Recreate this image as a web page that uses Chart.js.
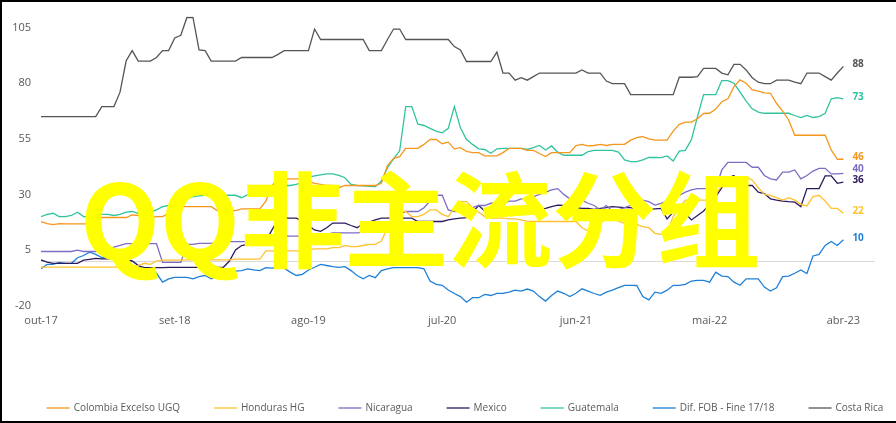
<!DOCTYPE html>
<html>
<head>
<meta charset="utf-8">
<script src="https://cdn.jsdelivr.net/npm/chart.js@4.4.1/dist/chart.umd.min.js"></script>
<style>
  html, body { margin: 0; padding: 0; background: #fff; }
  #wrap { position: relative; width: 896px; height: 423px; overflow: hidden; }
  #frame { position: absolute; left: 0; top: 0; width: 896px; height: 423px; box-sizing: border-box;
           border-top: 2px solid #000; border-left: 2px solid #000; border-bottom: 2px solid #000; pointer-events: none; }
  #mark { position: absolute; left: 80px; top: 163px; font-family: "Noto Sans CJK SC", sans-serif; font-size: 104px;
          font-weight: bold; line-height: 1; color: #ffff00; white-space: nowrap; }
</style>
</head>
<body>
<div id="wrap">
  <canvas id="chart" width="896" height="423"></canvas>
  <div id="mark">QQ非主流分组</div>
  <div id="frame"></div>
</div>
<script>
// semi-monthly points, out-17 .. abr-23 (133 points)
const tickIdx = [0, 22, 44, 66, 88, 110, 132];
const tickLabels = ["out-17", "set-18", "ago-19", "jul-20", "jun-21", "mai-22", "abr-23"];
const yTicks = [-20, 0, 5, 30, 55, 80, 105];

const colombia = [
  17.8,16.8,16.4,16.8,16.7,16.7,16.7,16.7,16.7,17.5,
  19.6,19.6,19.6,19.6,19.6,20.8,20.5,20,19.6,20,
  20,21.5,24,24.5,24.5,24.5,24.5,24.5,24.5,22.7,
  22.7,22.7,22.7,23.5,23.5,23.5,23.5,27,34,37,
  37,37,37,37,36,35,34.5,34,34,33,
  34,34,34,34,34,34,35,43,46.2,47,
  50.7,50.7,50.7,52.5,54.7,54.7,52.8,53.5,50.5,51,
  49.3,48.8,48.8,47.3,47.3,47.3,48.8,50.7,50.7,50.7,
  49.8,49.8,48.4,47,48.8,48.8,48.8,48.8,52,52.5,
  51.8,52,52.5,52,52.5,52.5,52.5,54.4,55.5,56,
  55,54.4,54.4,54.4,58.5,61.5,62.5,62.5,64,66.4,
  66.5,68.4,71.7,73,78.5,81.5,80,77,76.5,75.7,
  75.5,71,67.5,63.5,56.6,56.6,56.6,56.6,56.6,56.6,
  50,45.8,45.8
];
const honduras = [
  -2.7,-2.7,-2.7,-2.7,-2.7,-2.7,-2.7,-2.7,-2.7,-2.7,
  -2.7,-2.7,-2.7,-2.7,-2.7,-2.7,-2,-1,-1.5,0,
  0.4,0.4,0.4,0.4,0.5,0.5,0.5,0.5,0.5,0.5,
  0.5,0.5,0.9,0.9,0.9,0.9,0.9,4.6,4.6,4.6,
  4.6,4.6,4.6,4.6,5,5.5,5.5,5.5,6,6,
  7,6.5,6.5,7,7.5,7.5,9,15,20,22.3,
  22.3,20,20,21,23,23,21,20,24,26.7,
  26.7,24,22,20,19.3,19.3,19.3,19,19,18.5,
  18,17.8,17.8,17.8,17.8,17.8,17.8,17.8,17.8,15,
  13.5,14.2,17,19.3,19.3,18,17,16,16.5,15.5,
  15,12.5,12,12.7,20,24,27.4,27.4,27.4,27.4,
  27.4,30,34,36,37.7,37.7,37.7,36.5,33,30,
  29.6,28.5,27.4,28.5,27.4,25.5,24.8,29,29.6,27,
  23.7,23.7,21.5
];
const nicaragua = [
  4.3,4.3,4.3,4.3,4.3,4.3,4.9,4.3,4.3,4.3,
  4.3,4.3,6.3,7,7.8,7.8,7.8,7.8,7.8,7.8,
  -0.6,-0.6,-0.6,-0.6,7.5,7.5,8,8,8,8.5,
  8.7,8.7,8.7,8.7,8.7,8.7,7.8,9.5,11.2,11.2,
  11.2,11.2,11.2,11.2,11.5,12,12,12,12.7,12.7,
  12.7,12.7,12.7,13,13,13,14,16,19,21,
  22.3,22.3,22.3,24,27,29.6,29.6,23,22.3,22.3,
  23,24,25,25,26,26,26,27,27,28,
  28,29,30,31,32,32.6,30,28,27.5,27.4,
  26,25,23,25,22.5,23,24,25,26.5,27.4,
  26.7,25.2,26,27,28,29.5,31,32,32.6,32.6,
  32.6,32.6,41,44.4,44.4,44.4,44.4,42.2,42.2,38.5,
  37,36.5,40,40,41,37,38.5,40.5,41.7,41.7,
  39.2,39.2,39.5
];
const mexico = [
  0.5,-0.5,-1,-1,-1,-1,-1,0.4,0.8,1.2,
  1,1,1,1,0.5,0.1,-2,-3,-3,-3,
  -3,-2.8,-2.8,-2.8,-2.8,-2.8,-2.8,-2.8,-2.8,-2.8,
  -2.8,0,5,7,7.5,7.5,7.5,9,14,18.5,
  19.3,19.3,19.3,18,16,14,13.4,15,17.1,17.1,
  17.1,16,15,16.8,17.5,18.5,19.3,19.3,19.3,19.3,
  19.3,19.3,17.8,17.8,17.8,17.8,17.8,18.5,19,19.3,
  19.5,22,25,22.5,22,22.3,22.3,22.3,23.7,23,
  22.5,22.3,23,23.7,24.5,25.2,25,24.5,24,23.7,
  23.7,23.3,23.7,24,24.5,24.3,24,24,23.5,23.3,
  23,23.5,23.7,19,22,22.5,21.5,18.5,20.5,22.5,
  25.5,29,33,37.5,38.5,34,34,34,31,30.4,
  28,27.4,27,26.7,26.5,24.5,32.6,32.6,32.6,38.3,
  38.3,35,35.5
];
const guatemala = [
  20,21,21.5,20,20,20.5,22,20,20,20.5,
  21,21,20.5,21,22,22.3,21.5,20.8,22,23,
  24.5,25,26,27,28,29,29.3,29.6,29.6,29.6,
  29.6,29.6,29.6,28.5,29.9,30,30,30.5,32,33.5,
  34,34,34.5,35.5,37.7,38.3,38.8,39.2,39.2,38.5,
  37.5,34.5,34,33.8,33.6,33.5,36,42,46,49.6,
  69.5,69.5,61.6,61,59.7,58.5,57.7,59.7,69.5,60,
  54.7,52.5,50.5,50.2,48.5,50.5,50.7,50.7,50.7,50.7,
  50.2,51,52,50,51.8,49,47.6,47.6,47.6,47.6,
  49.2,49.8,49.8,49.8,49.8,49,45.5,44.7,44.7,45.5,
  46.6,46.6,46.5,47.3,45,49.5,49.8,54.7,65,74.9,
  74.9,74.9,81.2,81.2,80,76,72,68.5,67,66.5,
  66.5,66.5,66.5,66.5,65.5,64.6,65.5,64.6,65,66.5,
  73,73.5,73
];
const difFob = [
  -3.5,-1.5,-1.5,-0.6,-1,-1,1.5,2.5,4,3,
  1.6,1.6,1.6,1.6,0.5,0,-2,-4,-3,-5.5,
  -9.5,-8,-7.3,-7.3,-7.3,-8,-7,-6.5,-8,-7,
  -5.8,-4,-4.5,-4.3,-3.5,-4,-4.3,-3,-3.2,-3,
  -3.2,-5,-6.5,-6,-4,-2.8,-1.5,-2,-2.5,-2.8,
  -2.5,-4.3,-6.5,-8,-6.5,-7.5,-4.3,-3.5,-3,-3,
  -3,-3,-3,-3.5,-9,-10.5,-10.9,-13,-14.6,-16,
  -18.5,-16.5,-16.5,-15,-15.5,-14.5,-14.5,-14,-13.1,-13.5,
  -12.6,-13.5,-16,-18,-15.5,-13.5,-14.5,-16,-14.5,-12.5,
  -13.5,-14.6,-15.4,-14,-13.1,-12,-10.9,-10.9,-11,-16,
  -17.5,-14,-14.5,-13.1,-10.9,-10.9,-10.5,-9,-8.7,-8.7,
  -9.5,-5,-6.8,-7,-9.5,-10.9,-8,-8,-8,-11.7,
  -13.5,-12,-7,-6.8,-5.5,-4,-5.6,2.3,3,7,
  8.8,7,9.6
];
const costaRica = [
  65,65,65,65,65,65,65,65,65,65,
  69.5,69.5,69.5,76,90,94.7,90,90,90,91.6,
  94.7,94.7,100.4,101.6,109.6,109.6,95,94.7,90,90,
  90,90,90,91.6,91.6,91.6,91.6,91.6,91.6,93,
  94.7,94.7,94.7,94.7,94.7,104.4,99.7,99.7,99.7,99.7,
  99.7,99.7,99.7,99.7,94.7,94.7,94.7,99.7,104.4,104.4,
  99.7,99.7,99.7,99.7,99.7,99.7,99.7,99.7,96.5,95,
  89.8,89.8,89.8,89.8,89.8,94,84.6,84.6,81.4,82.5,
  81.4,83,84.6,84.6,84.6,84.6,84.6,84.6,84.6,86,
  84.6,84.6,84.6,81,79.8,79.8,79.8,74.9,74.9,74.9,
  74.9,74.9,74.9,74.9,74.9,82.7,82.7,82.7,83,86.7,
  86.7,86.7,84.6,83.8,88.5,88.5,86,82.5,80.5,79.8,
  79.8,81.4,81.4,81.4,80.5,79.8,84.6,84.6,84.6,83,
  81.4,84.6,87.6
];

const GREY = "#595959";
const FONT = "'Open Sans', sans-serif";

const series = [
  ["Colombia Excelso UGQ", colombia, "#F5961D"],
  ["Honduras HG", honduras, "#FFC22E"],
  ["Nicaragua", nicaragua, "#7F6CC5"],
  ["Mexico", mexico, "#2D1B5E"],
  ["Guatemala", guatemala, "#30C39E"],
  ["Dif. FOB - Fine 17/18", difFob, "#1E80D8"],
  ["Costa Rica", costaRica, "#555555"]
];

// value labels at the end of each line, nudged apart when they collide
const endLabels = {
  id: "endLabels",
  afterDatasetsDraw(chart) {
    const ctx = chart.ctx;
    const items = chart.data.datasets.map((ds, i) => {
      const pts = chart.getDatasetMeta(i).data;
      const p = pts[pts.length - 1];
      const last = ds.data[ds.data.length - 1].y;
      return { x: p.x, y: p.y - 2, text: String(Math.round(last)), color: ds.borderColor };
    }).sort((a, b) => b.y - a.y);
    for (let k = 1; k < items.length; k++) {
      if (items[k - 1].y - items[k].y < 11) items[k].y = items[k - 1].y - 11;
    }
    ctx.save();
    ctx.font = "bold 10px " + FONT;
    ctx.textBaseline = "middle";
    items.forEach((it) => {
      ctx.fillStyle = it.color;
      ctx.fillText(it.text, it.x + 9, it.y);
    });
    ctx.restore();
  }
};

// single-row legend along the bottom, Excel style (short line + label)
const bottomLegend = {
  id: "bottomLegend",
  afterDraw(chart) {
    const ctx = chart.ctx;
    const lineW = 23, textGap = 4, itemGap = 34;
    ctx.save();
    ctx.font = "10px " + FONT;
    const items = chart.data.datasets.map((ds) => ({
      text: ds.label,
      color: ds.borderColor,
      w: lineW + textGap + ctx.measureText(ds.label).width
    }));
    const total = items.reduce((s, it) => s + it.w, 0) + itemGap * (items.length - 1);
    let x = chart.width / 2 + 17 - total / 2;
    const y = chart.height - 15;
    ctx.textBaseline = "middle";
    items.forEach((it) => {
      ctx.strokeStyle = it.color;
      ctx.lineWidth = 1.3;
      ctx.beginPath();
      ctx.moveTo(x, y);
      ctx.lineTo(x + lineW, y);
      ctx.stroke();
      ctx.fillStyle = GREY;
      ctx.fillText(it.text, x + lineW + textGap, y);
      x += it.w + itemGap;
    });
    ctx.restore();
  }
};

new Chart(document.getElementById("chart"), {
  type: "line",
  data: {
    datasets: series.map(([label, values, color]) => ({
      label,
      data: values.map((v, i) => ({ x: i, y: v })),
      borderColor: color,
      backgroundColor: color,
      borderWidth: 1.3,
      pointRadius: 0,
      tension: 0,
      fill: false
    }))
  },
  options: {
    responsive: false,
    animation: false,
    layout: { padding: { left: 0, right: 21, top: 12, bottom: 55 } },
    plugins: {
      legend: { display: false },
      tooltip: { enabled: false }
    },
    scales: {
      x: {
        type: "linear",
        min: 0,
        max: 137.2,
        grid: { display: false, drawTicks: false },
        border: { display: false },
        afterBuildTicks: (s) => { s.ticks = tickIdx.map((v) => ({ value: v })); },
        afterFit: (s) => { s.height = 62.5; },
        ticks: {
          padding: 9,
          color: GREY,
          font: { family: FONT, size: 11 },
          maxRotation: 0,
          autoSkip: false,
          callback: (v) => tickLabels[tickIdx.indexOf(v)]
        }
      },
      y: {
        min: -20,
        max: 110,
        afterBuildTicks: (s) => { s.ticks = yTicks.map((v) => ({ value: v })); },
        afterFit: (s) => { s.width = 41; },
        grid: {
          drawTicks: false,
          color: (c) => (c.tick && c.tick.value === 0 ? "#d9d9d9" : "rgba(0,0,0,0)")
        },
        border: { display: false },
        ticks: {
          padding: 10,
          color: GREY,
          font: { family: FONT, size: 11 },
          callback: (v) => (v === 0 ? "" : v)
        }
      }
    }
  },
  plugins: [endLabels, bottomLegend]
});
</script>
</body>
</html>
